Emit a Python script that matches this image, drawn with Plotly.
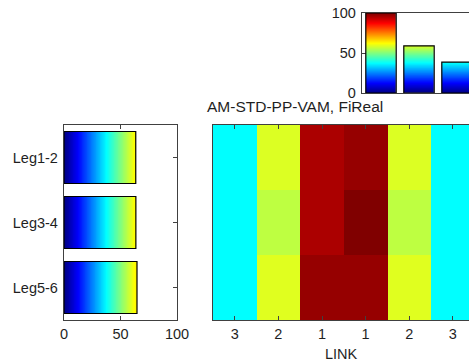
import numpy as np
import plotly.graph_objects as go

# ---- data -------------------------------------------------------------
legs = ["Leg1-2", "Leg3-4", "Leg5-6"]
leg_values = [63.5, 63.6, 64.6]

link_labels = ["3", "2", "1", "1", "2", "3"]
link_map = [
    [37.5, 59.1, 95.8, 97.8, 59.1, 37.5],
    [37.5, 56.1, 95.8, 100.0, 56.1, 37.5],
    [37.5, 59.5, 97.8, 97.8, 59.5, 37.5],
]

link_ids = [1, 2, 3]
link_totals = [100, 59, 38.5]

title_text = "AM-STD-PP-VAM, FiReal"
xlabel_text = "LINK"

# ---- styling ----------------------------------------------------------
W, H = 469, 363
JET = [
    [0.0, "rgb(0,0,128)"],
    [0.125, "rgb(0,0,255)"],
    [0.375, "rgb(0,255,255)"],
    [0.625, "rgb(255,255,0)"],
    [0.875, "rgb(255,0,0)"],
    [1.0, "rgb(128,0,0)"],
]
TXT = "#1f1f1f"
AX = "#404040"
FONT = "Liberation Sans, Arial, sans-serif"
FS = 14.5
BAR_W = 0.8
NSTEP = 160


def dom_x(left, right):
    return [left / W, right / W]


def dom_y(top, bottom):
    return [1 - bottom / H, 1 - top / H]


def h_gradient(pos, val, xa, ya):
    edges = np.linspace(0, val, NSTEP + 1)
    mids = (edges[:-1] + edges[1:]) / 2
    return go.Heatmap(x=edges, y=[pos - BAR_W / 2, pos + BAR_W / 2], z=[mids],
                      colorscale=JET, zmin=0, zmax=100, showscale=False,
                      hoverinfo="skip", xaxis=xa, yaxis=ya)


def v_gradient(pos, val, xa, ya):
    edges = np.linspace(0, val, NSTEP + 1)
    mids = (edges[:-1] + edges[1:]) / 2
    return go.Heatmap(x=[pos - BAR_W / 2, pos + BAR_W / 2], y=edges,
                      z=[[m] for m in mids],
                      colorscale=JET, zmin=0, zmax=100, showscale=False,
                      hoverinfo="skip", xaxis=xa, yaxis=ya)


fig = go.Figure()

# left: horizontal gradient bars per leg
leg_pos = list(range(len(legs)))
for p, v in zip(leg_pos, leg_values):
    fig.add_trace(h_gradient(p, v, "x", "y"))
fig.add_trace(go.Bar(x=leg_values, y=leg_pos, orientation="h", width=BAR_W,
                     marker=dict(color="rgba(0,0,0,0)",
                                 line=dict(color="black", width=1.2)),
                     hoverinfo="skip", xaxis="x", yaxis="y"))

# centre: link x leg map
fig.add_trace(go.Heatmap(z=link_map, x=list(range(len(link_labels))),
                         y=leg_pos, colorscale=JET, zmin=0, zmax=100,
                         showscale=False, xaxis="x2", yaxis="y2"))

# top: vertical gradient bars per link
for p, v in zip(link_ids, link_totals):
    fig.add_trace(v_gradient(p, v, "x3", "y3"))
fig.add_trace(go.Bar(x=link_ids, y=link_totals, width=BAR_W,
                     marker=dict(color="rgba(0,0,0,0)",
                                 line=dict(color="black", width=1.2)),
                     hoverinfo="skip", xaxis="x3", yaxis="y3"))

axis_common = dict(showline=True, linecolor=AX, linewidth=1.3, ticks="inside",
                   ticklen=4, tickcolor=AX, showgrid=False, zeroline=False,
                   automargin=False,
                   tickfont=dict(family=FONT, size=FS, color=TXT))
plain_axis = dict(showline=True, linecolor=AX, linewidth=1.3,
                  showticklabels=False, ticks="", showgrid=False,
                  zeroline=False, automargin=False)

col_w = 43.6
fig.update_layout(
    width=W, height=H, margin=dict(l=0, r=0, t=0, b=0),
    paper_bgcolor="white", plot_bgcolor="white", showlegend=False,
    xaxis=dict(domain=dom_x(64, 177), range=[0, 100], tickvals=[0, 50, 100],
               mirror="ticks", anchor="y", **axis_common),
    yaxis=dict(domain=dom_y(125, 320), range=[2.5, -0.5], tickvals=leg_pos,
               ticktext=legs, mirror="ticks", anchor="x", layer="below traces",
               ticklabelstandoff=2, **axis_common),
    xaxis2=dict(domain=dom_x(213, W), range=[-0.5, -0.5 + (W - 213) / col_w],
                tickvals=list(range(len(link_labels))), ticktext=link_labels,
                mirror="ticks", anchor="y2", **axis_common),
    yaxis2=dict(domain=dom_y(125, 320), range=[2.5, -0.5], anchor="x2",
                **plain_axis),
    xaxis3=dict(domain=dom_x(362, W), range=[0.5, 0.5 + (W - 362) / 38],
                mirror=True, anchor="y3", **plain_axis),
    yaxis3=dict(domain=dom_y(13, 93), range=[0, 100], tickvals=[0, 50, 100],
                anchor="x3", layer="below traces", ticklabelstandoff=2,
                **axis_common),
    annotations=[
        dict(text=title_text, xref="paper", yref="paper", x=205 / W,
             y=1 - 106 / H, xanchor="left", yanchor="middle", showarrow=False,
             font=dict(family=FONT, size=15.5, color=TXT)),
        dict(text=xlabel_text, xref="paper", yref="paper",
             x=(213 + W) / 2 / W, y=1 - 354 / H, xanchor="center",
             yanchor="middle", showarrow=False,
             font=dict(family=FONT, size=FS, color=TXT)),
    ],
)

fig.write_html("out.html")
